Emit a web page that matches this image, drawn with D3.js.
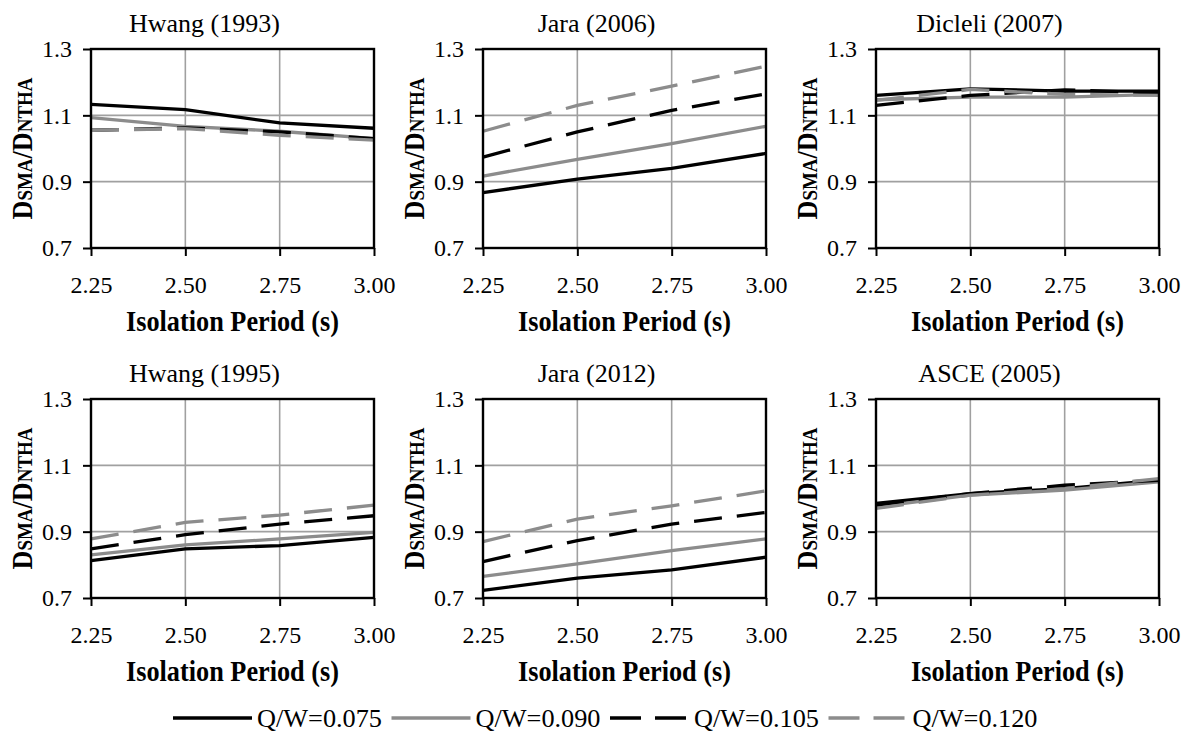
<!DOCTYPE html>
<html>
<head>
<meta charset="utf-8">
<script src="https://cdn.jsdelivr.net/npm/d3@7"></script>
<style>
  body { margin: 0; background: #fff; }
  svg text { font-family: "Liberation Serif", "Times New Roman", serif; fill: #000; }
</style>
</head>
<body>
<div id="chart"></div>
<script>
//values
const periods = [2.25, 2.50, 2.75, 3.00];
const yTicks = [0.7, 0.9, 1.1, 1.3];
const seriesNames = ["Q/W=0.075", "Q/W=0.090", "Q/W=0.105", "Q/W=0.120"];
const panelTitles = ["Hwang (1993)", "Jara (2006)", "Dicleli (2007)", "Hwang (1995)", "Jara (2012)", "ASCE (2005)"];

//each panel: rows = Q/W 0.075, 0.090, 0.105, 0.120
const hwang1993 = [[1.133, 1.117, 1.077, 1.061], [1.093, 1.067, 1.052, 1.030], [1.055, 1.062, 1.050, 1.030], [1.055, 1.060, 1.040, 1.025]];
const jara2006 = [[0.867, 0.908, 0.940, 0.985], [0.917, 0.967, 1.015, 1.067], [0.974, 1.050, 1.115, 1.165], [1.052, 1.130, 1.188, 1.248]];
const dicleli2007 = [[1.160, 1.180, 1.173, 1.173], [1.147, 1.155, 1.155, 1.163], [1.130, 1.160, 1.177, 1.167], [1.145, 1.178, 1.163, 1.160]];
const hwang1995 = [[0.813, 0.848, 0.858, 0.883], [0.830, 0.860, 0.878, 0.898], [0.848, 0.891, 0.923, 0.948], [0.878, 0.928, 0.950, 0.980]];
const jara2012 = [[0.723, 0.760, 0.785, 0.823], [0.765, 0.803, 0.843, 0.878], [0.810, 0.873, 0.923, 0.958], [0.870, 0.938, 0.978, 1.023]];
const asce2005 = [[0.985, 1.015, 1.030, 1.055], [0.975, 1.010, 1.025, 1.050], [0.980, 1.015, 1.040, 1.055], [0.970, 1.010, 1.030, 1.060]];
const panelData = [hwang1993, jara2006, dicleli2007, hwang1995, jara2012, asce2005];

//layout
const W = 1189, H = 733;
const colLeft = [91, 483, 876];
const rowTop = [49, 399];
const plotW = 283, plotH = 199;
const seriesColor = ["#000", "#8c8c8c", "#000", "#8c8c8c"];
const seriesDash = [null, null, "28,15", "28,15"];
const legendDash = [null, null, "31,14", "31,14"];

const svg = d3.select("#chart").append("svg")
    .attr("width", W).attr("height", H);

panelData.forEach((data, i) => {
    const left = colLeft[i % 3], top = rowTop[Math.floor(i / 3)];
    drawPanel(svg, data, panelTitles[i], left, top);
});

drawLegend(svg);

//one small chart
function drawPanel(svg, data, title, left, top) {
    const g = svg.append("g").attr("transform", `translate(${left},${top})`);
    const x = d3.scaleLinear().domain([2.25, 3.00]).range([0, plotW]);
    const y = d3.scaleLinear().domain([0.7, 1.3]).range([plotH, 0]);

    //grid
    g.append("g").selectAll("line").data(yTicks.slice(1, -1)).enter().append("line")
        .attr("x1", 0).attr("x2", plotW)
        .attr("y1", d => y(d)).attr("y2", d => y(d))
        .attr("stroke", "#a0a0a0").attr("stroke-width", 1.6);
    g.append("g").selectAll("line").data(periods.slice(1, -1)).enter().append("line")
        .attr("y1", 0).attr("y2", plotH)
        .attr("x1", d => x(d)).attr("x2", d => x(d))
        .attr("stroke", "#a0a0a0").attr("stroke-width", 1.6);

    //axes
    const xAxis = g.append("g")
        .attr("transform", `translate(0,${plotH})`)
        .call(d3.axisBottom(x).tickValues(periods).tickFormat(d3.format(".2f")).tickSize(8).tickPadding(20));
    const yAxis = g.append("g")
        .call(d3.axisLeft(y).tickValues(yTicks).tickFormat(d3.format(".1f")).tickSize(8).tickPadding(11));
    [xAxis, yAxis].forEach(a => {
        a.select(".domain").remove();
        a.selectAll(".tick line").attr("stroke", "#000").attr("stroke-width", 2);
        a.selectAll("text").style("font-size", "24px").style("font-family", "Liberation Serif");
    });

    //lines
    const line = d3.line().x((d, j) => x(periods[j])).y(d => y(d));
    data.forEach((vals, s) => {
        g.append("path")
            .datum(vals)
            .attr("d", line)
            .attr("fill", "none")
            .attr("stroke", seriesColor[s])
            .attr("stroke-width", 3.3)
            .attr("stroke-dasharray", seriesDash[s]);
    });

    //frame
    g.append("rect")
        .attr("width", plotW).attr("height", plotH)
        .attr("fill", "none").attr("stroke", "#000").attr("stroke-width", 2.4);

    //titles
    g.append("text")
        .attr("x", plotW / 2 - 28).attr("y", -17)
        .attr("text-anchor", "middle")
        .style("font-size", "26px")
        .text(title);
    g.append("text")
        .attr("x", plotW / 2).attr("y", plotH + 83)
        .attr("text-anchor", "middle")
        .attr("textLength", 213).attr("lengthAdjust", "spacingAndGlyphs")
        .style("font-size", "29px").style("font-weight", "bold")
        .text("Isolation Period (s)");

    const yl = g.append("text")
        .attr("transform", `translate(-59,${plotH / 2}) rotate(-90)`)
        .attr("text-anchor", "middle")
        .attr("textLength", 142).attr("lengthAdjust", "spacingAndGlyphs")
        .style("font-size", "29px").style("font-weight", "bold");
    yl.append("tspan").text("D");
    yl.append("tspan").style("font-size", "21px").text("SMA");
    yl.append("tspan").text("/D");
    yl.append("tspan").style("font-size", "21px").text("NTHA");
}

//legend along the bottom
function drawLegend(svg) {
    const lg = svg.append("g").attr("transform", "translate(173,718)");
    const item = lg.selectAll("g").data(seriesNames).enter().append("g")
        .attr("transform", (d, i) => `translate(${i * 218.5},0)`);
    item.append("line")
        .attr("x1", 0).attr("x2", 79).attr("y1", 0).attr("y2", 0)
        .attr("stroke", (d, i) => seriesColor[i])
        .attr("stroke-width", 3.3)
        .attr("stroke-dasharray", (d, i) => legendDash[i]);
    item.append("text")
        .attr("x", 84).attr("y", 9)
        .attr("textLength", 125).attr("lengthAdjust", "spacingAndGlyphs")
        .style("font-size", "25px")
        .text(d => d);
}
</script>
</body>
</html>
